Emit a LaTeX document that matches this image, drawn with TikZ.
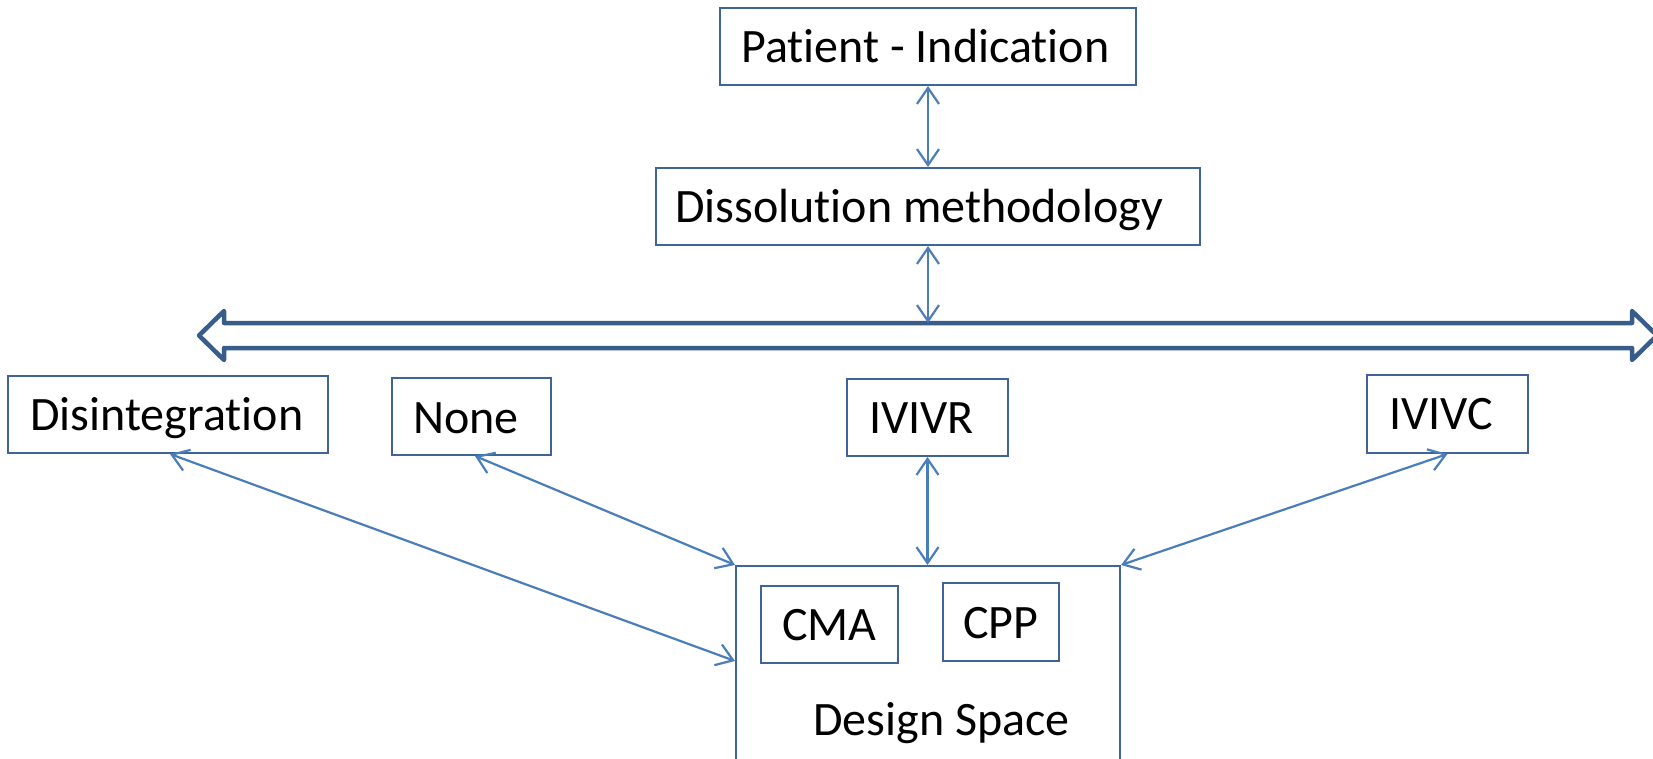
\documentclass[tikz,border=0pt]{standalone}
\usepackage{fontspec}
\setmainfont{Carlito}[Ligatures=NoCommon]
\usetikzlibrary{arrows.meta}
\definecolor{boxblue}{HTML}{3F6497}
\definecolor{linkblue}{HTML}{4A7EBB}
\definecolor{barblue}{HTML}{385D8A}
\tikzset{
  box/.style={draw=boxblue, line width=2pt, fill=white, rectangle, inner sep=0pt},
  lbl/.style={inner sep=0pt, font=\fontsize{48}{58}\selectfont, text=black},
  link/.style={draw=linkblue, line width=2.2pt,
    {Straight Barb[length=16pt,width=22pt,line width=2.2pt]}-{Straight Barb[length=16pt,width=22pt,line width=2.2pt]}},
  bar/.style={draw=barblue, line width=4.5pt, fill=white, line join=round}
}
\begin{document}
\begin{tikzpicture}[x=1pt,y=-1pt]
\useasboundingbox (0,0) rectangle (1653,758);
\clip (0,0) rectangle (1653,758);
\fill[white] (0,0) rectangle (1653,758);

% boxes
\node[box, minimum width=416pt, minimum height=77pt] (pat) at (928,46.5) {};
\node[box, minimum width=544pt, minimum height=77pt] (dis) at (928,206.5) {};
\node[box, minimum width=320pt, minimum height=77pt] (disint) at (168,414.5) {};
\node[box, minimum width=159pt, minimum height=77pt] (none) at (471.5,416.5) {};
\node[box, minimum width=161pt, minimum height=77pt] (ivivr) at (927.5,417.5) {};
\node[box, minimum width=161pt, minimum height=78pt] (ivivc) at (1447.5,414) {};
\node[box, minimum width=384pt, minimum height=234pt] (ds) at (928,683) {};
\node[box, minimum width=137pt, minimum height=77pt] (cma) at (829.5,624.5) {};
\node[box, minimum width=116pt, minimum height=78pt] (cpp) at (1001,622) {};

% texts
\node[lbl, anchor=base west] (patT) at (741,62) {Patient - Indication};
\node[lbl, anchor=base west] (disT) at (675,222) {Dissolution methodology};
\node[lbl, anchor=base west] (disintT) at (30,430) {Disintegration};
\node[lbl, anchor=base west] (noneT) at (413,433) {None};
\node[lbl, anchor=base west] (ivivrT) at (869,433) {IVIVR};
\node[lbl, anchor=base west] (ivivcT) at (1389,429) {IVIVC};
\node[lbl, anchor=base west] (cmaT) at (782,640) {CMA};
\node[lbl, anchor=base west] (cppT) at (963,638) {CPP};
\node[lbl, anchor=base west] (dsT) at (813,735) {Design Space};

% wide double arrow
\draw[bar] (199,335.5) -- (224,311) -- (224,323) -- (1632,323) -- (1632,311)
  -- (1657,335.5) -- (1632,360) -- (1632,348) -- (224,348) -- (224,360) -- cycle;
\coordinate (barTop) at (928,323);

% connectors
\draw[link] (pat.south) -- (dis.north);
\draw[link] (dis.south) -- (barTop);
\draw[link] ([xshift=2pt]disint.south) -- ([yshift=-96pt]ds.north west);
\draw[link] ([xshift=3.5pt]none.south) -- (ds.north west);
\draw[link] (ivivr.south) -- (ivivr.south |- ds.north);
\draw[link] (ivivc.south) -- (ds.north east);
\end{tikzpicture}
\end{document}
